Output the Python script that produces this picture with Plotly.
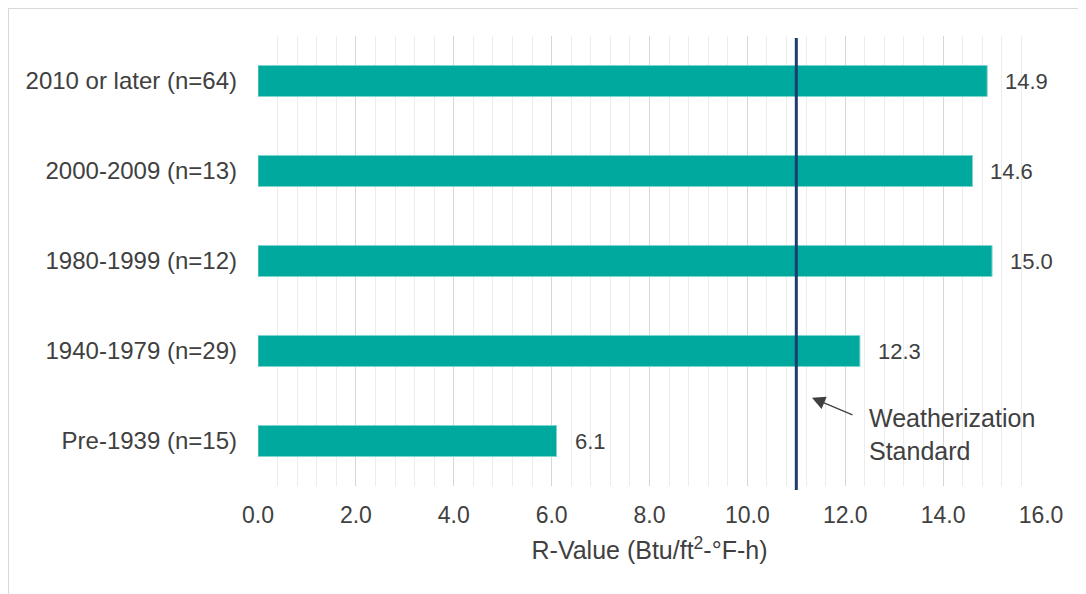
import plotly.graph_objects as go

categories = ["Pre-1939 (n=15)", "1940-1979 (n=29)", "1980-1999 (n=12)", "2000-2009 (n=13)", "2010 or later (n=64)"]
r_values = [6.1, 12.3, 15.0, 14.6, 14.9]
standard_value = 11.0
x_ticks = [0, 2, 4, 6, 8, 10, 12, 14, 16]

# page body adds an 8px offset; work in page pixels and convert
OFF = 8
W, H = 1086 - OFF, 594 - OFF
ML, MR, MT, MB = 258 - OFF, 45, 36 - OFF, 108
PW, PH = W - ML - MR, H - MT - MB

FONT = "Liberation Sans, Arial, sans-serif"
TXT = "#404040"
BAR = "#00A99D"

fig = go.Figure()
fig.add_trace(go.Bar(
    y=categories, x=r_values, orientation="h",
    marker=dict(color=BAR, line=dict(color="#7fd4ce", width=1)),
    width=0.345, hoverinfo="x+y",
))

annotations = []
for c, v in zip(categories, r_values):
    annotations.append(dict(x=v, y=c, xref="x", yref="y", text=f"{v:.1f}",
                            showarrow=False, xanchor="left", yanchor="middle",
                            xshift=16, font=dict(family=FONT, size=22, color=TXT)))

# arrow pointing to standard line
annotations.append(dict(x=11.32, y=0.48, xref="x", yref="y", text=" ",
                        showarrow=True, arrowhead=2, arrowsize=2.2, arrowwidth=1.2,
                        arrowcolor="#404040", ax=45, ay=19, axref="pixel", ayref="pixel",
                        standoff=0))
annotations.append(dict(x=12.44, y=0.07, xref="x", yref="y",
                        text="Weatherization<br>Standard", showarrow=False,
                        xanchor="left", yanchor="middle", align="left",
                        font=dict(family=FONT, size=25, color=TXT)))

# page pixel -> paper coordinate
px = lambda p: (p - OFF - ML) / PW
py = lambda p: 1 - (p - OFF - MT) / PH

shapes = [
    dict(type="line", xref="x", yref="paper", x0=standard_value, x1=standard_value,
         y0=py(490), y1=py(38), line=dict(color="#1F3C6E", width=3)),
    dict(type="line", xref="paper", yref="paper", x0=px(8), x1=px(1100),
         y0=py(8), y1=py(8), line=dict(color="#d9d9d9", width=2)),
    dict(type="line", xref="paper", yref="paper", x0=px(8), x1=px(8),
         y0=py(8), y1=py(600), line=dict(color="#d9d9d9", width=2)),
]

fig.update_layout(
    width=W, height=H,
    margin=dict(l=ML, r=MR, t=MT, b=MB),
    paper_bgcolor="white", plot_bgcolor="white",
    showlegend=False,
    font=dict(family=FONT, size=22, color=TXT),
    annotations=annotations,
    shapes=shapes,
    xaxis=dict(
        range=[0, 16], tickvals=x_ticks, tickformat=".1f",
        showgrid=True, gridcolor="#d6d6d6", gridwidth=1,
        minor=dict(dtick=0.4, showgrid=True, gridcolor="#ececec", gridwidth=1),
        zeroline=False, showline=False, ticks="",
        ticklabelstandoff=13,
        tickfont=dict(family=FONT, size=23, color=TXT),
        title=dict(text="R-Value (Btu/ft<sup>2</sup>-°F-h)", standoff=14,
                   font=dict(family=FONT, size=25, color=TXT)),
    ),
    yaxis=dict(
        categoryorder="array", categoryarray=categories,
        showgrid=False, zeroline=False, showline=False, ticks="",
        ticklabelstandoff=20,
        tickfont=dict(family=FONT, size=24, color=TXT),
        range=[-0.5, 4.5],
    ),
)

fig.write_html("out.html")
